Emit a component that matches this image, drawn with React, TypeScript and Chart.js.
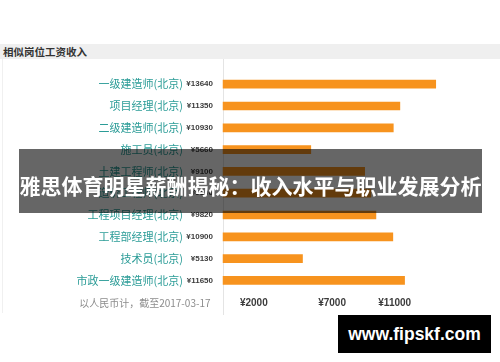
import React, { useEffect, useRef } from "react";
import { Chart, registerables } from "chart.js";

Chart.register(...registerables);

const chartTitle = "相似岗位工资收入";
const categories = [
  "一级建造师(北京)",
  "项目经理(北京)",
  "二级建造师(北京)",
  "施工员(北京)",
  "土建工程师(北京)",
  "造价工程师(北京)",
  "工程项目经理(北京)",
  "工程部经理(北京)",
  "技术员(北京)",
  "市政一级建造师(北京)",
];
const salaries = [13640, 11350, 10930, 5660, 9100, 9500, 9820, 10900, 5130, 11650];
const xTickValues = [2000, 7000, 11000];
const footnote = "以人民币计，截至2017-03-17";
const bannerText = "雅思体育明星薪酬揭秘：收入水平与职业发展分析";
const watermark = "www.fipskf.com";

const CJK = '"Noto Sans CJK SC", "Noto Sans", sans-serif';
const LATIN = '"Liberation Sans", Arial, sans-serif';

export default function App() {
  const canvasRef = useRef<HTMLCanvasElement | null>(null);

  useEffect(() => {
    const canvas = canvasRef.current;
    if (!canvas) return;
    const valueLabels = salaries.map((v) => `¥${v}`);

    const decor = {
      id: "decor",
      beforeDatasetsDraw(chart: any) {
        const { ctx, chartArea } = chart;
        ctx.save();
        ctx.strokeStyle = "#e4e4e4";
        ctx.lineWidth = 1;
        const x = Math.round(chartArea.left) + 0.5;
        ctx.beginPath();
        ctx.moveTo(x, 0);
        ctx.lineTo(x, chart.height);
        ctx.stroke();
        ctx.restore();
      },
      afterDraw(chart: any) {
        const { ctx, chartArea } = chart;
        ctx.save();
        ctx.font = `10px ${CJK}`;
        ctx.fillStyle = "#8c8c8c";
        ctx.textAlign = "right";
        ctx.textBaseline = "middle";
        ctx.fillText(footnote, chartArea.left - 12, chartArea.bottom + 12);
        ctx.restore();
      },
    };

    const chart = new Chart(canvas, {
      type: "bar",
      data: {
        labels: categories,
        datasets: [
          {
            data: salaries,
            backgroundColor: "#f7931e",
            borderWidth: 0,
            barPercentage: 0.8,
            categoryPercentage: 0.5,
          },
        ],
      },
      options: {
        indexAxis: "y",
        animation: false,
        responsive: false,
        maintainAspectRatio: false,
        layout: { padding: { top: 6.4, right: 27, left: 0, bottom: 0 } },
        plugins: { legend: { display: false }, tooltip: { enabled: false } },
        scales: {
          x: {
            type: "linear",
            min: 0,
            max: 16000,
            grid: { display: false, drawTicks: false },
            border: { display: false },
            afterBuildTicks: (s: any) => {
              s.ticks = xTickValues.map((v) => ({ value: v }));
            },
            afterFit: (s: any) => {
              s.height = 23.7;
            },
            ticks: {
              callback: (v: any) => `¥${v}`,
              font: { family: LATIN, size: 10, weight: "bold" },
              color: "#3c3c3c",
              padding: 6,
              maxRotation: 0,
              autoSkip: false,
            },
          },
          y: {
            type: "category",
            position: "left",
            weight: 2,
            offset: true,
            grid: { display: false, drawTicks: false },
            border: { display: false },
            afterFit: (s: any) => {
              s.width = 185.5;
            },
            ticks: {
              font: { family: CJK, size: 11 },
              color: "#2b9c97",
              padding: 2.5,
              autoSkip: false,
            },
          },
          y2: {
            type: "category",
            labels: valueLabels,
            position: "left",
            weight: 1,
            offset: true,
            grid: { display: false, drawTicks: false },
            border: { display: false },
            afterFit: (s: any) => {
              s.width = 37;
            },
            ticks: {
              font: { family: LATIN, size: 8, weight: "bold" },
              color: "#3c3c3c",
              padding: 9.5,
              autoSkip: false,
            },
          },
        },
      } as any,
      plugins: [decor],
    });
    return () => chart.destroy();
  }, []);

  return (
    <div
      style={{
        position: "fixed",
        left: 0,
        top: 0,
        width: 500,
        height: 362,
        background: "#ffffff",
        overflow: "hidden",
      }}
    >
      <div
        style={{
          position: "absolute",
          left: 0,
          top: 44,
          width: 500,
          height: 15,
          background: "#efefef",
        }}
      >
        <span
          style={{
            position: "absolute",
            left: 3,
            top: 0,
            lineHeight: "15px",
            fontFamily: CJK,
            fontWeight: "bold",
            fontSize: 10.5,
            color: "#333",
            whiteSpace: "nowrap",
          }}
        >
          {chartTitle}
        </span>
      </div>
      <div
        style={{
          position: "absolute",
          left: 2,
          top: 59,
          width: 1,
          height: 254,
          background: "#f0f0f0",
        }}
      />
      <canvas
        ref={canvasRef}
        width={500}
        height={256}
        style={{ position: "absolute", left: 0, top: 59, width: 500, height: 256 }}
      />
      <div
        style={{
          position: "absolute",
          left: 19,
          top: 149,
          width: 463,
          height: 64,
          background: "rgba(0,0,0,0.6)",
          color: "#ffffff",
          fontFamily: CJK,
          fontWeight: "bold",
          fontSize: 21,
          lineHeight: "72px",
          textAlign: "center",
          whiteSpace: "nowrap",
        }}
      >
        {bannerText}
      </div>
      <div
        style={{
          position: "absolute",
          left: 338,
          top: 315,
          width: 153,
          height: 38,
          background: "#000000",
          color: "#ffffff",
          fontFamily: LATIN,
          fontWeight: "bold",
          fontSize: 17.5,
          lineHeight: "38px",
          textAlign: "center",
          whiteSpace: "nowrap",
        }}
      >
        {watermark}
      </div>
    </div>
  );
}
